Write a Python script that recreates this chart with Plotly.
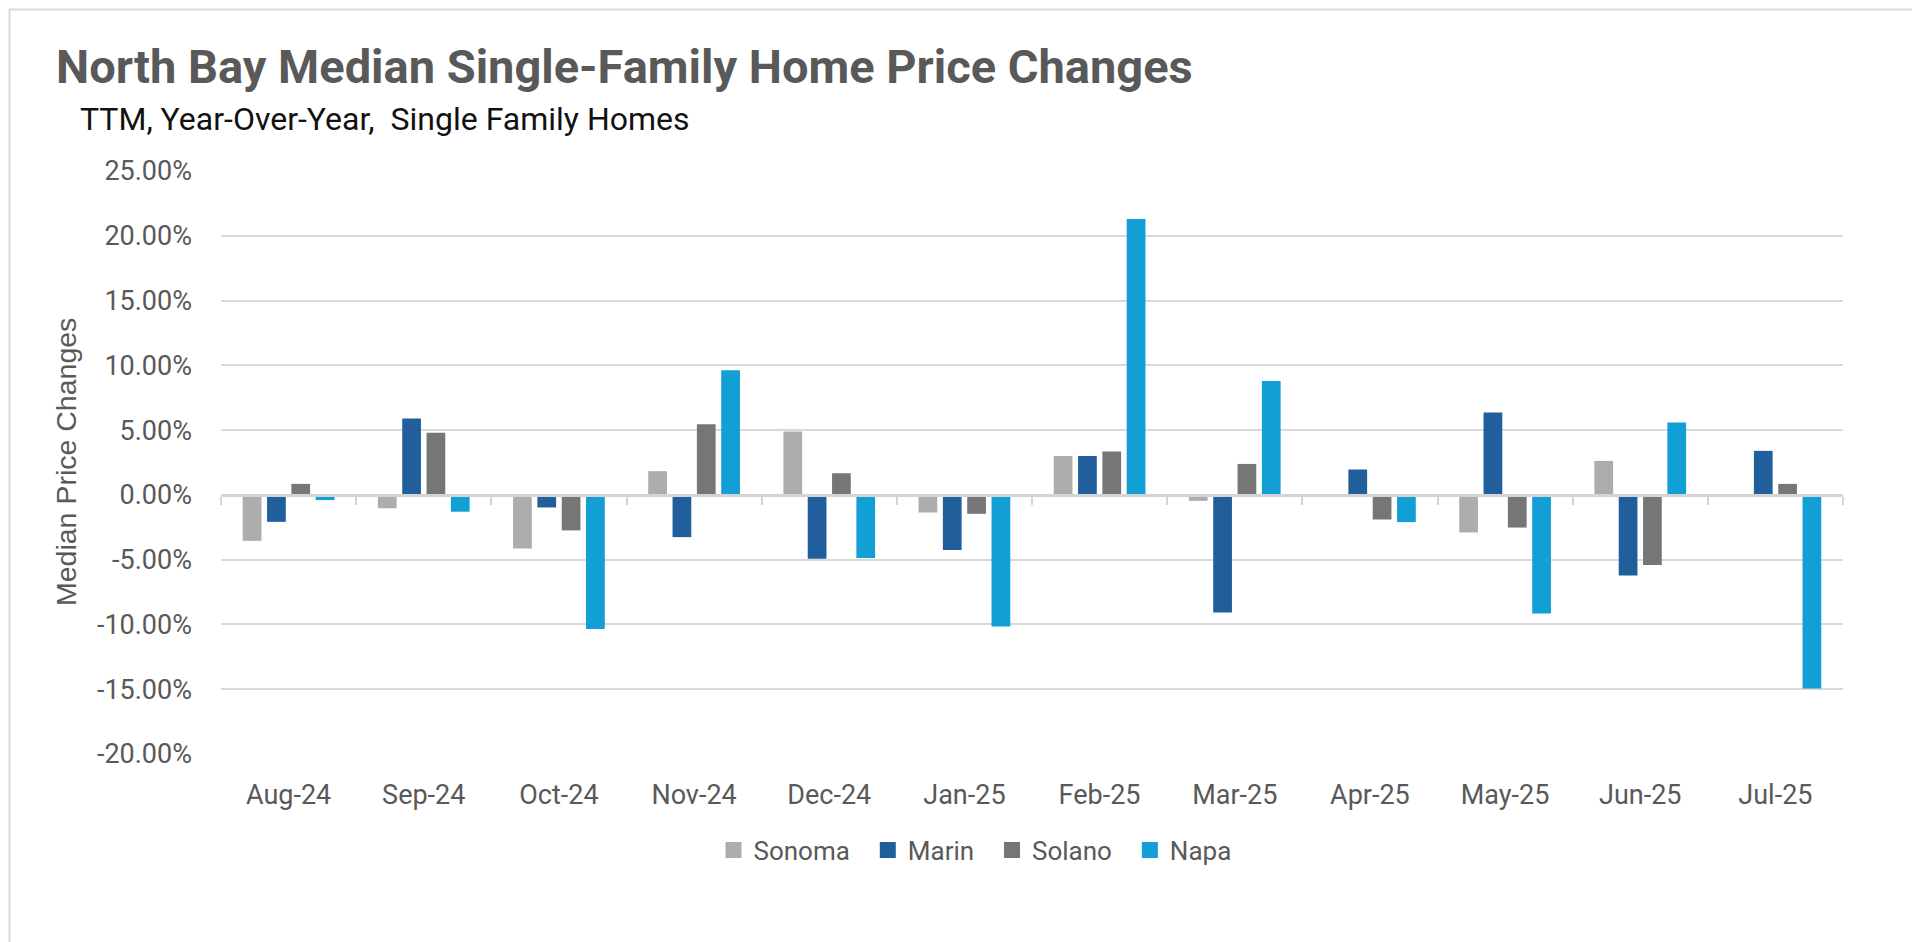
import plotly.graph_objects as go

months = ["Aug-24", "Sep-24", "Oct-24", "Nov-24", "Dec-24", "Jan-25",
          "Feb-25", "Mar-25", "Apr-25", "May-25", "Jun-25", "Jul-25"]

# year-over-year median price change, percent
sonoma = [-3.55, -1.03, -4.13, 1.83, 4.89, -1.36, 3.0, -0.46, 0.0, -2.9, 2.62, 0.0]
marin = [-2.08, 5.9, -0.97, -3.26, -4.92, -4.26, 3.0, -9.07, 1.96, 6.36, -6.22, 3.4]
solano = [0.85, 4.8, -2.74, 5.45, 1.67, -1.46, 3.35, 2.39, -1.9, -2.52, -5.42, 0.85]
napa = [-0.4, -1.3, -10.36, 9.62, -4.87, -10.15, 21.3, 8.8, -2.1, -9.15, 5.59, -14.94]

ytick_vals = [-20, -15, -10, -5, 0, 5, 10, 15, 20, 25]
ytick_text = ["-20.00%", "-15.00%", "-10.00%", "-5.00%", "0.00%",
              "5.00%", "10.00%", "15.00%", "20.00%", "25.00%"]

series = [("Sonoma", sonoma, "#adadad"),
          ("Marin", marin, "#205f9b"),
          ("Solano", solano, "#767676"),
          ("Napa", napa, "#129fd6")]

W, H = 1920, 942
L, R, T, B = 213, 85, 163, 196
pw, ph = W - L - R, H - T - B

fig = go.Figure()
for name, vals, col in series:
    fig.add_trace(go.Bar(x=months, y=vals, name=name, marker_color=col,
                         marker_line_width=0, showlegend=False))

# legend entries: square swatches like the original
for i, (name, vals, col) in enumerate(series):
    pad = "" if i == len(series) - 1 else "\u00a0\u00a0"
    fig.add_trace(go.Scatter(x=[None], y=[None], mode="markers", name=name + pad,
                             marker=dict(symbol="square", size=16, color=col),
                             hoverinfo="skip"))

# invisible trace so the zero axis (with boundary ticks) gets drawn
fig.add_trace(go.Scatter(x=months, y=[0] * len(months), xaxis="x2", mode="markers",
                         marker=dict(opacity=0), showlegend=False, hoverinfo="skip"))

txt = "#595959"
fig.update_layout(
    width=W, height=H,
    margin=dict(l=L, r=R, t=T, b=B),
    paper_bgcolor="white", plot_bgcolor="white",
    barmode="group", bargap=0.28, bargroupgap=0.23,
    font=dict(family="Roboto", color=txt, size=27),
    title=dict(text="<b>North Bay Median Single-Family Home Price Changes</b>",
               x=48 / W, xanchor="left", xref="container",
               y=1 - 59 / H, yanchor="middle", yref="container",
               font=dict(family="Roboto", size=47, color=txt)),
    legend=dict(orientation="h", x=(967 - L) / pw, xanchor="center",
                y=-(842 - T - ph) / ph, yanchor="middle",
                font=dict(size=26, color=txt), itemwidth=30,
                traceorder="normal"),
    xaxis=dict(type="category", categoryorder="array", categoryarray=months,
               range=[-0.5, 11.5], showgrid=False, showline=False, ticks="",
               ticklabelstandoff=22, tickfont=dict(size=27, color=txt)),
    xaxis2=dict(type="category", categoryorder="array", categoryarray=months,
                range=[-0.5, 11.5], overlaying="x", anchor="free",
                position=20 / 45, showline=True, linecolor="#d4d4d4", linewidth=2.5,
                ticks="outside", tickson="boundaries", ticklen=8, tickwidth=2,
                tickcolor="#d4d4d4", showticklabels=False, showgrid=False),
    yaxis=dict(range=[-20, 25], tickvals=ytick_vals, ticktext=ytick_text,
               showgrid=True, gridcolor="#d9d9d9", gridwidth=2, zeroline=False,
               showline=False, ticklabelstandoff=28,
               tickfont=dict(size=27, color=txt)),
    annotations=[
        dict(text="TTM, Year-Over-Year,  Single Family Homes", xref="paper", yref="paper",
             x=(70 - L) / pw, y=(H - B - 111) / ph, xanchor="left", yanchor="middle",
             showarrow=False, font=dict(family="Roboto", size=32, color="#111111")),
        dict(text="Median Price Changes", xref="paper", yref="paper",
             x=(58 - L) / pw, y=(H - B - 454) / ph, xanchor="center", yanchor="middle",
             textangle=-90, showarrow=False,
             font=dict(family="Liberation Sans", size=28.5, color=txt)),
    ],
    shapes=[dict(type="rect", xref="paper", yref="paper",
                 x0=(1.5 - L) / pw, x1=(W - 2.5 - L) / pw,
                 y0=(H - B - (H - 2.5)) / ph, y1=(H - B - 1.5) / ph,
                 line=dict(color="#d9d9d9", width=2), fillcolor="rgba(0,0,0,0)",
                 layer="below")],
)

fig.write_html("out.html")
